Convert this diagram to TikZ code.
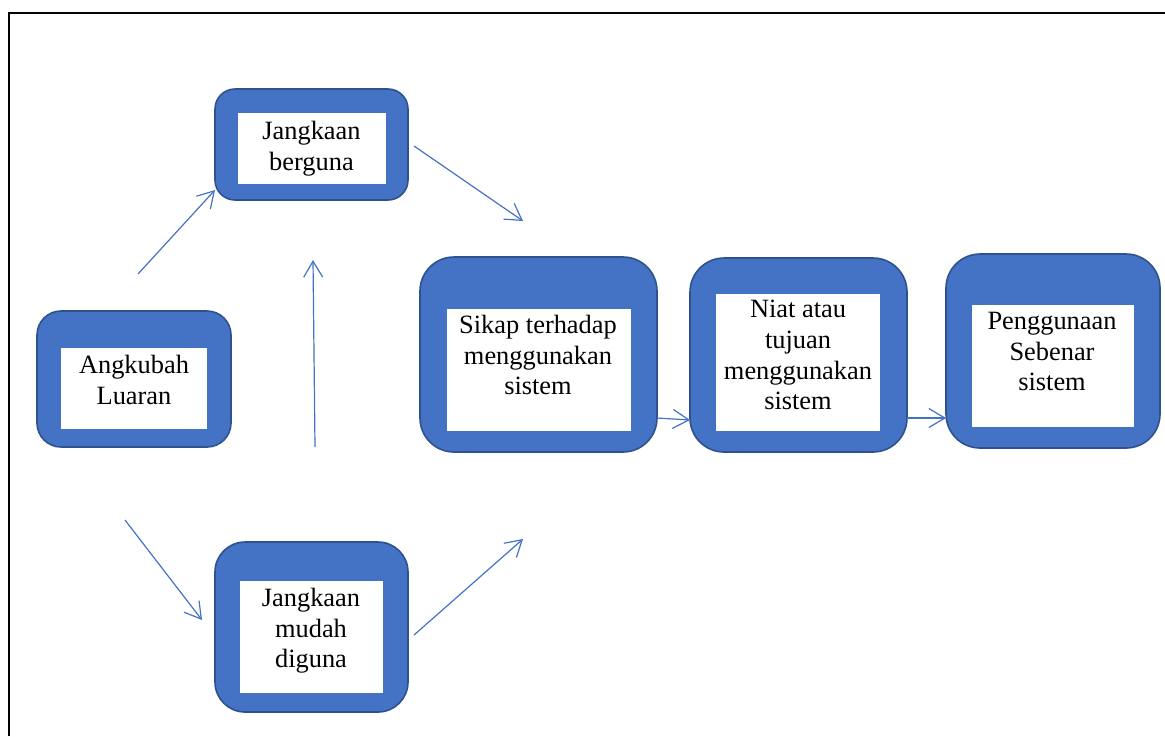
\documentclass[tikz,border=0pt]{standalone}
\usepackage{fontspec}
\setmainfont{Liberation Serif}
\usetikzlibrary{arrows.meta,fit}
\definecolor{boxblue}{HTML}{4472C4}
\definecolor{boxedge}{HTML}{2F528F}
\begin{document}
\begin{tikzpicture}[x=0.5pt,y=-0.5pt,
  outerbox/.style={draw=boxedge, line width=0.8pt, fill=boxblue, inner sep=0pt},
  innerbox/.style={fill=white, inner sep=0pt},
  lbl/.style={anchor=north, inner sep=0pt, align=center, text=black,
    font=\fontsize{13.2pt}{15.3pt}\selectfont},
  conn/.style={draw=boxblue, line width=0.6pt,
    -{Straight Barb[length=8pt,width=9.5pt]}}]
\useasboundingbox (0,0) rectangle (1165,736);
% frame
\draw[line width=0.9pt, black] (9,736) -- (9,13) -- (1165,13);
% boxes
\node[outerbox, rounded corners=12pt, fit={(37,311) (231,447)}] (ang) {};
\node[innerbox, fit={(61,348) (207,429)}] (angi) {};
\node[lbl] (angt) at (134,355) {Angkubah\\Luaran};

\node[outerbox, rounded corners=10pt, fit={(215,89) (408,200)}] (ber) {};
\node[innerbox, fit={(238,113) (386,184)}] (beri) {};
\node[lbl] (bert) at (311.5,121) {Jangkaan\\berguna};

\node[outerbox, rounded corners=15pt, fit={(215,542) (408,712)}] (mud) {};
\node[innerbox, fit={(240,581) (383,693)}] (mudi) {};
\node[lbl] (mudt) at (311,588) {Jangkaan\\mudah\\diguna};

\node[outerbox, rounded corners=17pt, fit={(420,257) (657,452)}] (sik) {};
\node[innerbox, fit={(447,309) (631,431)}] (siki) {};
\node[lbl] (sikt) at (538,315) {Sikap terhadap\\menggunakan\\sistem};

\node[outerbox, rounded corners=17pt, fit={(690,258) (907,452)}] (nia) {};
\node[innerbox, fit={(716,294) (880,431)}] (niai) {};
\node[lbl] (niat) at (798,300) {Niat atau\\tujuan\\menggunakan\\sistem};

\node[outerbox, rounded corners=17pt, fit={(946,254) (1160,448)}] (pen) {};
\node[innerbox, fit={(972,305) (1134,427)}] (peni) {};
\node[lbl] (pent) at (1052,312) {Penggunaan\\Sebenar\\sistem};

% connector end points
\coordinate (c1s) at (138,274);
\coordinate (c1e) at (215,190);
\coordinate (c2s) at (414,146);
\coordinate (c2e) at (523,221);
\coordinate (c3s) at (315,447);
\coordinate (c3e) at (313,260);
\coordinate (c4s) at (125,520);
\coordinate (c4e) at (202,620);
\coordinate (c5s) at (414,635);
\coordinate (c5e) at (523,539);
\coordinate (c6s) at (657,418);
\coordinate (c6e) at (690,420);
\coordinate (c7s) at (907,418);
\coordinate (c7e) at (946,418);

\draw[conn] (c1s) -- (c1e);
\draw[conn] (c2s) -- (c2e);
\draw[conn] (c3s) -- (c3e);
\draw[conn] (c4s) -- (c4e);
\draw[conn] (c5s) -- (c5e);
\draw[conn] (c6s) -- (c6e);
\draw[conn] (c7s) -- (c7e);
\end{tikzpicture}
\end{document}
